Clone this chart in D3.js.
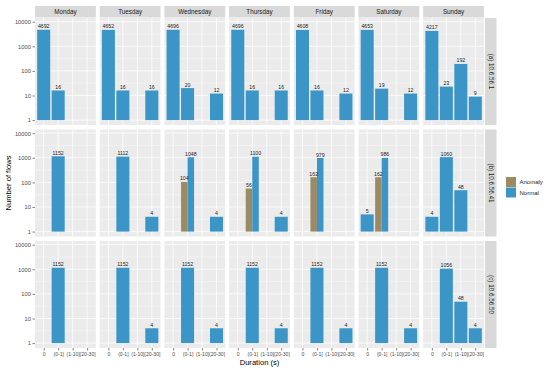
<!DOCTYPE html>
<html>
<head>
<meta charset="utf-8">
<script src="https://cdn.jsdelivr.net/npm/d3@7"></script>
<style>
  body { margin: 0; background: #fff; }
  svg text { font-family: "Liberation Sans", Arial, sans-serif; }
</style>
</head>
<body>
<div id="chart"></div>
<script>
// data
const days = ["Monday", "Tuesday", "Wednesday", "Thursday", "Friday", "Saturday", "Sunday"];
const hosts = ["(a) 10.6.56.1", "(b) 10.6.56.41", "(c) 10.6.56.50"];
const durations = ["0", "(0-1]", "(1-10]", "(20-30]"];
const yTicks = [1, 10, 100, 1000, 10000];
const classes = ["Anomaly", "Normal"];

// counts per day, per duration (null = no bar)
const normalA = [
  [4692, 16, null, null],
  [4652, 16, null, 16],
  [4696, 20, null, 12],
  [4696, 16, null, 16],
  [4608, 16, null, 12],
  [4653, 19, null, 12],
  [4217, 23, 192, 9]
];
const normalB = [
  [null, 1152, null, null],
  [null, 1112, null, 4],
  [null, 1048, null, 4],
  [null, 1100, null, 4],
  [null, 979, null, null],
  [5, 986, null, null],
  [4, 1060, 48, null]
];
const anomalyB = [
  [null, null, null, null],
  [null, null, null, null],
  [null, 104, null, null],
  [null, 56, null, null],
  [null, 162, null, null],
  [null, 162, null, null],
  [null, null, null, null]
];
const normalC = [
  [null, 1152, null, null],
  [null, 1152, null, 4],
  [null, 1152, null, 4],
  [null, 1152, null, 4],
  [null, 1152, null, 4],
  [null, 1152, null, 4],
  [null, 1056, 48, 4]
];

const normalByHost = [normalA, normalB, normalC];
const anomalyByHost = [null, anomalyB, null];

// flatten into rows
const rows = [];
hosts.forEach((h, hi) => {
  days.forEach((d, di) => {
    durations.forEach((dur, ci) => {
      const n = normalByHost[hi][di][ci];
      const a = anomalyByHost[hi] ? anomalyByHost[hi][di][ci] : null;
      const both = n != null && a != null;
      if (a != null) rows.push({host: h, day: d, dur: dur, cls: "Anomaly", value: a, slot: both ? 0 : -1});
      if (n != null) rows.push({host: h, day: d, dur: dur, cls: "Normal", value: n, slot: both ? 1 : -1});
    });
  });
});

// layout
const W = 550, H = 370;
const colors = d3.scaleOrdinal().domain(classes).range(["#9c8a63", "#3b95c6"]);

const col = d3.scaleBand().domain(days).range([35, 484]).paddingInner(0.06);
const row = d3.scaleBand().domain(hosts).range([18, 348]).paddingInner(0.04);
const pw = col.bandwidth(), ph = row.bandwidth();

const x = d3.scalePoint().domain(durations).range([0, pw]).padding(0.6);
const step = x.step();
const y = d3.scaleLog().domain([Math.pow(10, -0.2), Math.pow(10, 4.15)]).range([ph, 0]);

const svg = d3.select("#chart").append("svg")
  .attr("width", W).attr("height", H);

svg.append("rect").attr("width", W).attr("height", H).attr("fill", "#fff");

// column strips
svg.selectAll("g.cstrip").data(days).join("g")
  .attr("class", "cstrip")
  .attr("transform", d => `translate(${col(d)},6)`)
  .call(g => {
    g.append("rect").attr("width", pw).attr("height", 11.5).attr("fill", "#d9d9d9");
    g.append("text").attr("x", pw / 2).attr("y", 8.3)
      .attr("text-anchor", "middle").attr("font-size", 6.3).attr("fill", "#1a1a1a")
      .text(d => d);
  });

// row strips
svg.selectAll("g.rstrip").data(hosts).join("g")
  .attr("class", "rstrip")
  .attr("transform", d => `translate(485,${row(d)})`)
  .call(g => {
    g.append("rect").attr("width", 11.5).attr("height", ph).attr("fill", "#d9d9d9");
    g.append("text")
      .attr("transform", `translate(3.6,${ph / 2}) rotate(90)`)
      .attr("text-anchor", "middle").attr("font-size", 6.3).attr("fill", "#1a1a1a")
      .text(d => d);
  });

const minor = [0.5, 1.5, 2.5, 3.5].map(e => Math.pow(10, e));

// panels
hosts.forEach((h, hi) => {
  days.forEach((d, di) => {
    const g = svg.append("g").attr("transform", `translate(${col(d)},${row(h)})`);
    g.append("rect").attr("width", pw).attr("height", ph).attr("fill", "#ebebeb");

    g.selectAll("line.minor").data(minor).join("line")
      .attr("x1", 0).attr("x2", pw)
      .attr("y1", v => y(v)).attr("y2", v => y(v))
      .attr("stroke", "#fff").attr("stroke-width", 0.35);
    g.selectAll("line.major").data(yTicks).join("line")
      .attr("x1", 0).attr("x2", pw)
      .attr("y1", v => y(v)).attr("y2", v => y(v))
      .attr("stroke", "#fff").attr("stroke-width", 0.75);
    g.selectAll("line.vmajor").data(durations).join("line")
      .attr("x1", c => x(c)).attr("x2", c => x(c))
      .attr("y1", 0).attr("y2", ph)
      .attr("stroke", "#fff").attr("stroke-width", 0.75);

    const data = rows.filter(r => r.host === h && r.day === d);
    const bw = step * 0.9;
    const bx = r => r.slot < 0 ? x(r.dur) - bw / 2 : x(r.dur) - bw / 2 + r.slot * bw / 2;
    const bwid = r => r.slot < 0 ? bw : bw / 2;

    g.selectAll("rect.bar").data(data).join("rect")
      .attr("class", "bar")
      .attr("x", bx)
      .attr("width", bwid)
      .attr("y", r => y(r.value))
      .attr("height", r => y(1) - y(r.value))
      .attr("fill", r => colors(r.cls));

    g.selectAll("text.lab").data(data).join("text")
      .attr("class", "lab")
      .attr("x", r => bx(r) + bwid(r) / 2)
      .attr("y", r => y(r.value) - 1.5)
      .attr("text-anchor", "middle")
      .attr("font-size", 5.2).attr("fill", "#1a1a1a")
      .text(r => r.value);

    // y axis on first column
    if (di === 0) {
      const ay = g.append("g").call(d3.axisLeft(y).tickValues(yTicks).tickFormat(d3.format("d")).tickSize(2.5).tickPadding(1.5));
      ay.select(".domain").remove();
      ay.selectAll("line").attr("stroke", "#333").attr("stroke-width", 0.6);
      ay.selectAll("text").attr("font-size", 5.8).attr("fill", "#4d4d4d")
        .attr("font-family", "Liberation Sans, Arial, sans-serif");
    }
    // x axis on last row
    if (hi === hosts.length - 1) {
      const ax = g.append("g").attr("transform", `translate(0,${ph})`)
        .call(d3.axisBottom(x).tickSize(2.5).tickPadding(1.5));
      ax.select(".domain").remove();
      ax.selectAll("line").attr("stroke", "#333").attr("stroke-width", 0.6);
      ax.selectAll("text").attr("font-size", 5.1).attr("fill", "#4d4d4d")
        .attr("font-family", "Liberation Sans, Arial, sans-serif");
    }
  });
});

// axis titles
svg.append("text")
  .attr("transform", `translate(11,${(18 + 348) / 2}) rotate(-90)`)
  .attr("text-anchor", "middle").attr("font-size", 7.6).attr("fill", "#000")
  .text("Number of flows");
svg.append("text")
  .attr("x", (35 + 484) / 2).attr("y", 365)
  .attr("text-anchor", "middle").attr("font-size", 7.6).attr("fill", "#000")
  .text("Duration (s)");

// legend
const leg = svg.append("g").attr("transform", "translate(506,177)");
leg.selectAll("rect").data(classes).join("rect")
  .attr("x", 0).attr("y", (c, i) => i * 10.5)
  .attr("width", 10).attr("height", 10)
  .attr("fill", c => colors(c));
leg.selectAll("text").data(classes).join("text")
  .attr("x", 13.5).attr("y", (c, i) => i * 10.5 + 7)
  .attr("font-size", 6).attr("fill", "#1a1a1a")
  .text(c => c);
</script>
</body>
</html>
